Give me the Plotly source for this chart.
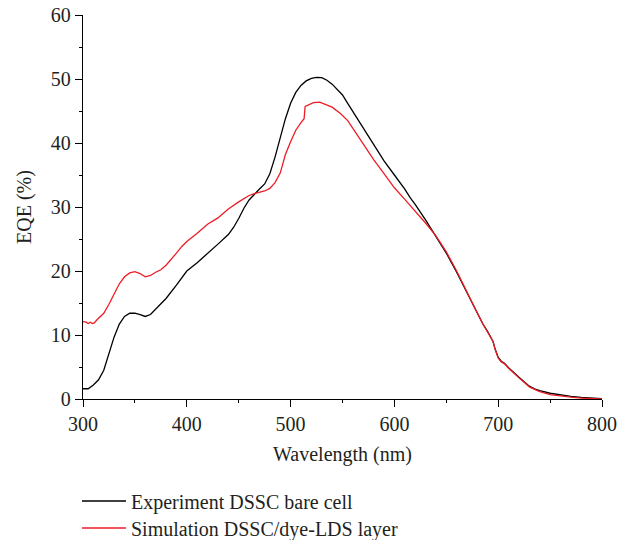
import plotly.graph_objects as go

# ---- data ----
exp_wavelength = [300, 305, 310, 315, 320, 325, 330, 335, 340, 345, 350, 355, 360, 365, 370, 380, 390, 400,
                  410, 420, 430, 440, 445, 450, 455, 460, 465, 470, 475, 480, 485, 490, 495, 500, 505, 510,
                  515, 520, 525, 530, 535, 540, 545, 550, 555, 560, 570, 580, 590, 600, 610, 615, 620, 630,
                  640, 650, 660, 670, 680, 685, 690, 693, 695, 697, 700, 703, 706, 710, 715, 720, 725, 730,
                  735, 740, 750, 760, 770, 780, 790, 800]
exp_eqe = [1.6, 1.6, 2.2, 3.0, 4.5, 7.0, 9.7, 11.7, 12.9, 13.4, 13.4, 13.2, 12.9, 13.2, 14.0, 15.7, 17.8, 20.0,
           21.3, 22.7, 24.2, 25.7, 26.8, 28.2, 29.8, 31.1, 32.0, 32.8, 33.6, 35.2, 37.8, 40.8, 43.8, 46.2, 47.9, 49.0,
           49.7, 50.1, 50.25, 50.2, 49.8, 49.2, 48.3, 47.5, 46.2, 44.9, 42.3, 39.7, 37.2, 35.0, 32.8, 31.5, 30.4, 28.0,
           25.5, 22.8, 19.8, 16.5, 13.4, 11.8, 10.5, 9.6, 9.0, 7.8, 6.5, 5.9, 5.6, 4.9, 4.1, 3.4, 2.7, 2.0,
           1.6, 1.3, 0.9, 0.6, 0.4, 0.25, 0.12, 0.05]

sim_wavelength = [300, 303, 305, 307, 309, 311, 313, 316, 320, 325, 330, 335, 340, 345, 350, 355, 360, 365, 370,
                  375, 380, 385, 390, 395, 400, 410, 420, 430, 440, 450, 460, 465, 470, 475, 480, 485, 490, 495,
                  500, 505, 510, 513, 514, 518, 522, 528, 535, 540, 548, 555, 560, 570, 580, 590, 600, 610, 620,
                  630, 640, 650, 660, 670, 680, 685, 690, 693, 695, 697, 700, 703, 706, 710, 715, 720, 725, 730,
                  735, 740, 750, 760, 770, 780, 790, 800]
sim_eqe = [12.1, 12.0, 11.8, 12.0, 11.8, 11.9, 12.3, 12.8, 13.4, 14.8, 16.5, 18.0, 19.1, 19.7, 19.9, 19.6, 19.1, 19.3, 19.8,
           20.2, 20.9, 21.8, 22.8, 23.8, 24.6, 25.9, 27.3, 28.3, 29.7, 30.8, 31.8, 32.1, 32.3, 32.5, 32.9, 33.8, 35.3, 38.2,
           40.2, 42.0, 43.2, 43.8, 45.7, 46.0, 46.3, 46.4, 46.0, 45.6, 44.6, 43.5, 42.3, 39.8, 37.4, 35.2, 33.0, 31.2, 29.4,
           27.5, 25.5, 23.0, 20.0, 16.6, 13.4, 11.8, 10.5, 9.6, 9.0, 7.8, 6.4, 5.8, 5.5, 4.8, 4.0, 3.3, 2.6, 1.9,
           1.5, 1.15, 0.7, 0.45, 0.28, 0.15, 0.07, 0.02]

x_ticks = [300, 400, 500, 600, 700, 800]
y_ticks = [0, 10, 20, 30, 40, 50, 60]

FONT = "Liberation Serif"
TEXT = "#231f20"

fig = go.Figure()
fig.add_trace(go.Scatter(x=exp_wavelength, y=exp_eqe, mode="lines",
                         name="Experiment DSSC bare cell",
                         line=dict(color="#000000", width=1.3), legend="legend"))
fig.add_trace(go.Scatter(x=sim_wavelength, y=sim_eqe, mode="lines",
                         name="Simulation DSSC/dye-LDS layer",
                         line=dict(color="#ee1c24", width=1.3), legend="legend2"))

axis_common = dict(showline=True, linecolor="#000", linewidth=1.3, showgrid=False, zeroline=False,
                   ticks="outside", ticklen=7, tickwidth=1.3, tickcolor="#000",
                   tickfont=dict(family=FONT, size=20, color=TEXT),
                   mirror=False, automargin=False)

fig.update_xaxes(range=[300, 800], tickvals=x_ticks,
                 minor=dict(dtick=50, ticks="outside", ticklen=3, tickwidth=1.3, tickcolor="#000"),
                 title=dict(text="Wavelength (nm)", font=dict(family=FONT, size=20, color=TEXT), standoff=12),
                 **axis_common)
fig.update_yaxes(range=[0, 60], tickvals=y_ticks,
                 minor=dict(dtick=5, ticks="outside", ticklen=3, tickwidth=1.3, tickcolor="#000"),
                 title=dict(text="EQE (%)", font=dict(family=FONT, size=20, color=TEXT), standoff=13),
                 **axis_common)

legend_common = dict(x=-0.0116, xanchor="left", yanchor="middle", bgcolor="rgba(0,0,0,0)",
                     font=dict(family=FONT, size=20, color=TEXT), itemwidth=44, borderwidth=0)

fig.update_layout(
    width=634, height=540,
    margin=dict(l=83, r=32, t=15, b=141, pad=0, autoexpand=False),
    paper_bgcolor="white", plot_bgcolor="white",
    showlegend=True,
    legend=dict(y=-0.2656, **legend_common),
    legend2=dict(y=-0.3359, **legend_common),
)

fig.write_html("out.html",
               config={"displayModeBar": False},
               post_script="document.body.style.margin='0';document.body.style.padding='0';")
